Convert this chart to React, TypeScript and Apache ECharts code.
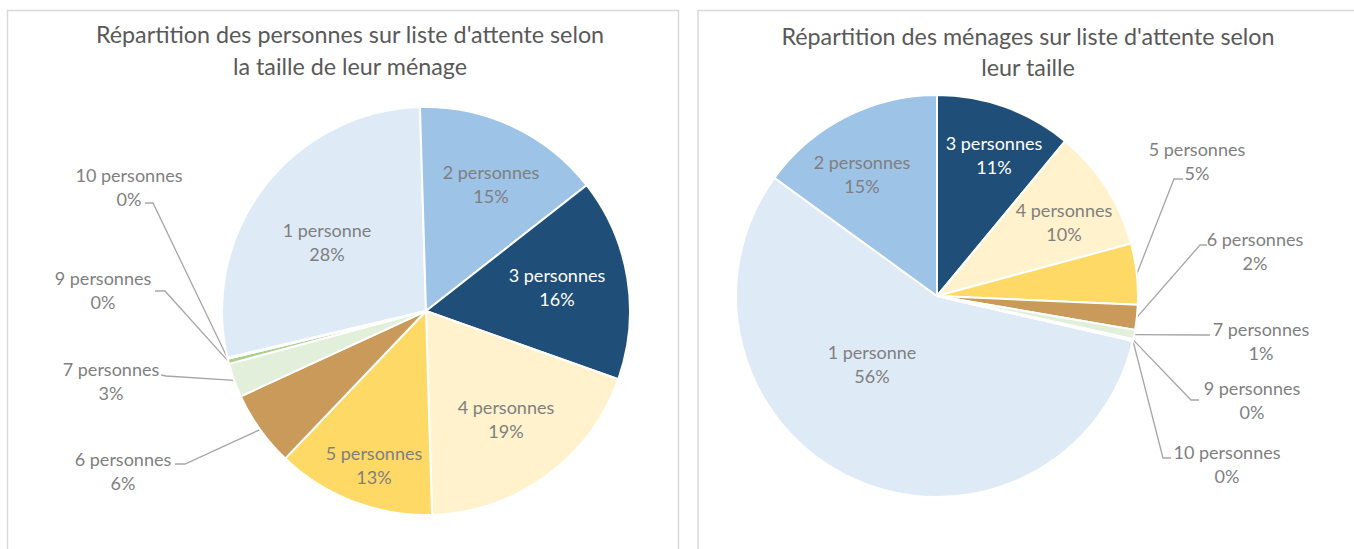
import React, { useEffect, useRef } from 'react';
import * as echarts from 'echarts';

// ---------- DATA ----------
const categories = [
  '1 personne',
  '2 personnes',
  '3 personnes',
  '4 personnes',
  '5 personnes',
  '6 personnes',
  '7 personnes',
  '9 personnes',
  '10 personnes',
];
// share (%) of persons on the waiting list by household size
const personsShares = [28.2, 14.9, 16.0, 19.1, 12.6, 6.0, 2.7, 0.4, 0.1];
// share (%) of households on the waiting list by household size
const householdShares = [56.4, 15.0, 11.0, 9.8, 4.9, 2.0, 0.75, 0.1, 0.05];

const leftTitle = "Répartition des personnes sur liste d'attente selon\nla taille de leur ménage";
const rightTitle = "Répartition des ménages sur liste d'attente selon\nleur taille";

// ---------- STYLE / LAYOUT ----------
const sliceColors = ['#DEEBF7', '#9DC3E6', '#1F4E79', '#FFF2CC', '#FFD966', '#CA9A5B', '#E2EFDA', '#A9D18E', '#C5E0B4'];
const FONT = 'Lato, "Open Sans", sans-serif';
const LABEL_GREY = '#7f7f7f';

type Pt = [number, number];
type LabelPlace = { c: Pt; line?: [Pt, Pt] };

const leftLabelPlaces: LabelPlace[] = [
  { c: [327, 242] },
  { c: [491, 184] },
  { c: [557, 287] },
  { c: [506, 419] },
  { c: [374, 465] },
  { c: [123, 471], line: [[185, 464], [175, 464]] },
  { c: [111, 381], line: [[166, 376], [161, 375]] },
  { c: [103, 290], line: [[165, 291], [155, 291]] },
  { c: [129, 187], line: [[153, 203], [145, 203]] },
];

const rightLabelPlaces: LabelPlace[] = [
  { c: [872, 364] },
  { c: [862, 174] },
  { c: [994, 155] },
  { c: [1064, 222] },
  { c: [1197, 161], line: [[1174, 179], [1183, 179]] },
  { c: [1255, 251], line: [[1200, 245], [1207, 245]] },
  { c: [1261, 341], line: [[1200, 335], [1210, 335]] },
  { c: [1252, 400], line: [[1191, 400], [1199, 400]] },
  { c: [1227, 464], line: [[1163, 458], [1171, 458]] },
];

function pieSeries(values: number[], places: LabelPlace[], center: Pt, radius: number, startAngle: number) {
  return {
    type: 'pie',
    center,
    radius,
    startAngle,
    clockwise: true,
    silent: true,
    avoidLabelOverlap: false,
    itemStyle: { borderColor: '#ffffff', borderWidth: 2 },
    label: {
      show: true,
      fontFamily: FONT,
      fontSize: 18,
      lineHeight: 24,
      color: LABEL_GREY,
      formatter: (p: any) => `${p.name}\n${Math.round(p.percent)}%`,
    },
    labelLine: {
      show: true,
      length: 20,
      length2: 10,
      lineStyle: { color: '#a6a6a6', width: 1.3 },
    },
    labelLayout: (params: any) => {
      const pl = places[params.dataIndex];
      const res: any = { x: pl.c[0], y: pl.c[1], align: 'center', verticalAlign: 'middle' };
      if (pl.line && params.labelLinePoints && params.labelLinePoints.length) {
        res.labelLinePoints = [params.labelLinePoints[0], pl.line[0], pl.line[1]];
      }
      return res;
    },
    data: categories.map((name, i) => ({
      name,
      value: values[i],
      itemStyle: { color: sliceColors[i] },
      label: {
        position: places[i].line ? 'outside' : 'inside',
        color: i === 2 ? '#ffffff' : LABEL_GREY,
      },
      labelLine: { show: !!places[i].line },
    })),
  };
}

export default function App() {
  const ref = useRef<HTMLDivElement>(null);

  useEffect(() => {
    if (!ref.current) return;
    const chart = echarts.init(ref.current, null, { renderer: 'svg' });

    const sum = (a: number[]) => a.reduce((s, v) => s + v, 0);
    // first slice ("1 personne") placed so that the next slice starts near 12 o'clock
    const leftStart = 91.7 + (personsShares[0] / sum(personsShares)) * 360;
    const rightStart = 90 + ((householdShares[0] + householdShares[1]) / sum(householdShares)) * 360;

    const titleStyle = { fontFamily: FONT, fontSize: 23.3, fontWeight: 'normal', color: '#595959', lineHeight: 32 };

    chart.setOption({
      animation: false,
      backgroundColor: '#ffffff',
      title: [
        { text: leftTitle, left: 350, top: 18, textAlign: 'center', padding: 0, textStyle: titleStyle },
        { text: rightTitle, left: 1028, top: 20, textAlign: 'center', padding: 0, textStyle: { ...titleStyle, lineHeight: 31 } },
      ],
      graphic: [
        {
          type: 'rect',
          silent: true,
          shape: { x: 7.5, y: 10.5, width: 671, height: 600 },
          style: { fill: 'none', stroke: '#d9d9d9', lineWidth: 1.5 },
        },
        {
          type: 'rect',
          silent: true,
          shape: { x: 698, y: 10.5, width: 700, height: 600 },
          style: { fill: 'none', stroke: '#d9d9d9', lineWidth: 1.5 },
        },
      ],
      series: [
        pieSeries(personsShares, leftLabelPlaces, [426, 311], 204, leftStart),
        pieSeries(householdShares, rightLabelPlaces, [937, 296], 201, rightStart),
      ],
    });

    return () => chart.dispose();
  }, []);

  return (
    <div
      ref={ref}
      style={{ position: 'fixed', left: 0, top: 0, width: 1354, height: 549, background: '#fff' }}
    />
  );
}
